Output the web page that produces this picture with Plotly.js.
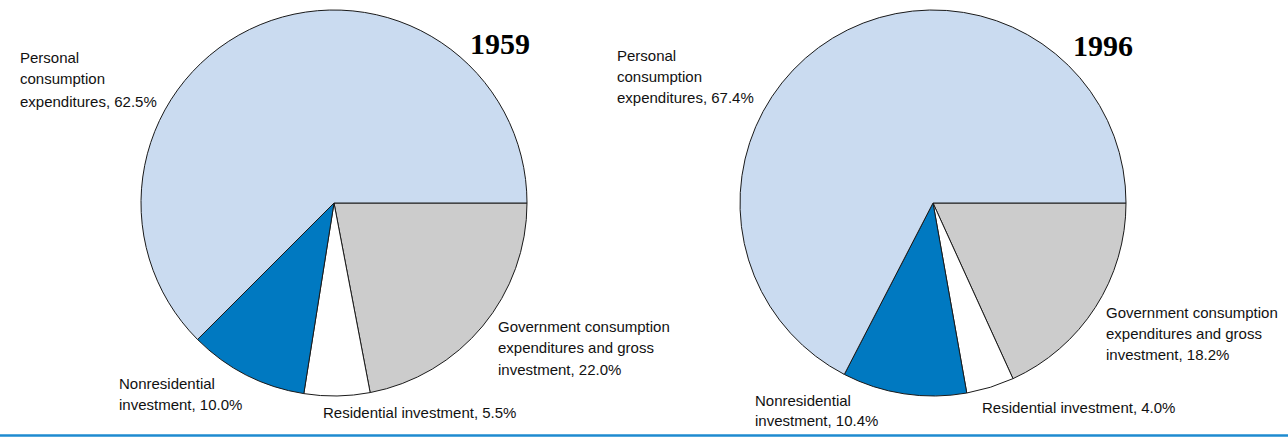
<!DOCTYPE html>
<html>
<head>
<meta charset="utf-8">
<script src="https://cdn.plot.ly/plotly-3.0.1.min.js"></script>
<style>html,body{margin:0;padding:0;background:#fff;}#chart{width:1288px;height:437px;}</style>
</head>
<body>
<div id="chart"></div>
<script>
// Data
const categories = ["Personal consumption expenditures", "Nonresidential investment", "Residential investment", "Government consumption expenditures and gross investment"];
const years = ["1959", "1996"];
const values1959 = [62.5, 10.0, 5.5, 22.0];
const values1996 = [67.4, 10.4, 4.0, 18.2];
const sliceColors = ["#cadbf0", "#0079c1", "#ffffff", "#cccccc"];

const W = 1288, H = 437;
const px = x => x / W;
const py = y => 1 - y / H;

// Plotly draws clockwise from 3 o'clock; reversing the order yields the
// counterclockwise layout of the original (first category starts at 3 o'clock).
function pieTrace(vals, x0, x1) {
  return {
    type: "pie",
    values: vals.slice().reverse(),
    labels: categories.slice().reverse(),
    sort: false,
    direction: "clockwise",
    rotation: 90,
    textinfo: "none",
    hoverinfo: "label+percent",
    marker: {colors: sliceColors.slice().reverse(), line: {color: "#1a1a1a", width: 1}},
    domain: {x: [px(x0), px(x1)], y: [py(396), py(10)]},
    showlegend: false
  };
}

function fmt(v) { return v.toFixed(1) + "%"; }

const labelFont = {family: "Liberation Sans, Arial, Helvetica, sans-serif", size: 15, color: "#111"};
const yearFont = {family: "Liberation Serif, Times New Roman, serif", size: 30, color: "#000"};

function labelLines(vals) {
  return [
    ["Personal", "consumption", "expenditures, " + fmt(vals[0])],
    ["Nonresidential", "investment, " + fmt(vals[1])],
    ["Residential investment, " + fmt(vals[2])],
    ["Government consumption", "expenditures and gross", "investment, " + fmt(vals[3])]
  ];
}

// [left x, first baseline, line step]
const pos1959 = [[19, 62, 22], [118, 388, 21], [322, 417, 21], [497, 331, 21.5]];
const pos1996 = [[616, 60, 21.5], [754, 405, 20], [981, 412, 21], [1105, 317, 21]];

function labelsFor(vals, pos) {
  const out = [];
  labelLines(vals).forEach((lines, i) => {
    lines.forEach((ln, j) => {
      out.push({
        text: ln, xref: "paper", yref: "paper",
        x: px(pos[i][0]), y: py(pos[i][1] + j * pos[i][2] - 5),
        xanchor: "left", yanchor: "middle", align: "left",
        showarrow: false, font: labelFont, borderpad: 0
      });
    });
  });
  return out;
}

const annotations = [
  ...labelsFor(values1959, pos1959),
  ...labelsFor(values1996, pos1996),
  {text: "<b>" + years[0] + "</b>", xref: "paper", yref: "paper", x: px(499.5), y: py(43), xanchor: "center", yanchor: "middle", showarrow: false, font: yearFont},
  {text: "<b>" + years[1] + "</b>", xref: "paper", yref: "paper", x: px(1103), y: py(45), xanchor: "center", yanchor: "middle", showarrow: false, font: yearFont}
];

const layout = {
  width: W, height: H,
  margin: {l: 0, r: 0, t: 0, b: 0},
  paper_bgcolor: "#fff",
  plot_bgcolor: "#fff",
  annotations: annotations,
  shapes: [{type: "line", xref: "paper", yref: "paper", x0: 0, x1: 1, y0: py(435.5), y1: py(435.5), line: {color: "#1e8bd0", width: 2.5}}]
};

Plotly.newPlot("chart", [pieTrace(values1959, 141, 527), pieTrace(values1996, 740, 1126)], layout, {displayModeBar: false, staticPlot: true});
</script>
</body>
</html>
